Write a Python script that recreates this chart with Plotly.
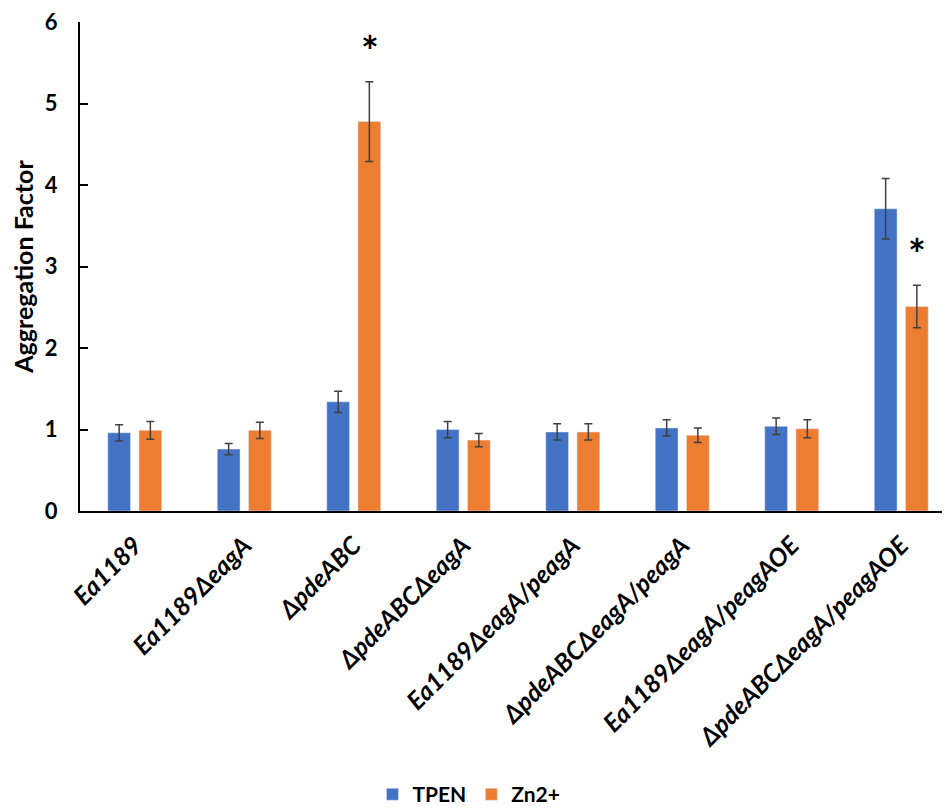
import plotly.graph_objects as go

categories = ["Ea1189", "Ea1189ΔeagA", "ΔpdeABC", "ΔpdeABCΔeagA",
              "Ea1189ΔeagA/peagA", "ΔpdeABCΔeagA/peagA",
              "Ea1189ΔeagA/peagAOE", "ΔpdeABCΔeagA/peagAOE"]
tpen = [0.96, 0.76, 1.34, 1.00, 0.97, 1.02, 1.04, 3.71]
tpen_err = [0.10, 0.07, 0.13, 0.10, 0.10, 0.10, 0.10, 0.37]
zn = [0.99, 0.99, 4.78, 0.87, 0.97, 0.93, 1.01, 2.51]
zn_err = [0.11, 0.10, 0.49, 0.08, 0.10, 0.09, 0.11, 0.26]
star_idx = [2, 7]
y_ticks = [0, 1, 2, 3, 4, 5, 6]

FONT = "Lato, 'Open Sans', sans-serif"
ERR_COLOR = "#404040"

fig = go.Figure()
fig.add_trace(go.Bar(
    name="TPEN", x=categories, y=tpen, marker_color="#4472C4",
    error_y=dict(type="data", array=tpen_err, visible=True,
                 color=ERR_COLOR, thickness=1.5, width=4),
))
fig.add_trace(go.Bar(
    name="Zn2+", x=categories, y=zn, marker_color="#ED7D31",
    error_y=dict(type="data", array=zn_err, visible=True,
                 color=ERR_COLOR, thickness=1.5, width=4),
))

for i in star_idx:
    fig.add_annotation(
        x=categories[i], y=zn[i] + zn_err[i], text="*", showarrow=False,
        xshift=16, yshift=4, yanchor="bottom",
        font=dict(family=FONT, size=42, color="black", weight="bold"),
    )

fig.update_layout(
    width=950, height=809,
    paper_bgcolor="white", plot_bgcolor="white",
    margin=dict(l=72, r=2, t=14, b=301),
    barmode="group", bargap=0.43, bargroupgap=0.27,
    font=dict(family=FONT, color="black"),
    legend=dict(orientation="h", x=0.444, xanchor="center",
                y=-0.58, yanchor="middle",
                font=dict(family=FONT, size=21, weight="bold"),
                itemwidth=30, traceorder="normal"),
    showlegend=True,
)
fig.update_yaxes(
    range=[0, 6.002], tickvals=y_ticks, showgrid=False, zeroline=False,
    showline=True, linecolor="black", linewidth=2, automargin=False,
    ticks="inside", ticklen=8, tickwidth=2, tickcolor="black",
    tickfont=dict(family=FONT, size=22, weight="bold"),
    ticklabelstandoff=16, ticklabeloverflow="allow",
    title=dict(text="Aggregation Factor", standoff=6,
               font=dict(family=FONT, size=25, weight="bold")),
)
fig.update_xaxes(
    showgrid=False, showline=True, linecolor="black", linewidth=2,
    automargin=False,
    ticks="", tickangle=-45, ticklabelstandoff=8,
    tickfont=dict(family=FONT, size=25, weight="bold", style="italic"),
)

fig.write_html("out.html")
